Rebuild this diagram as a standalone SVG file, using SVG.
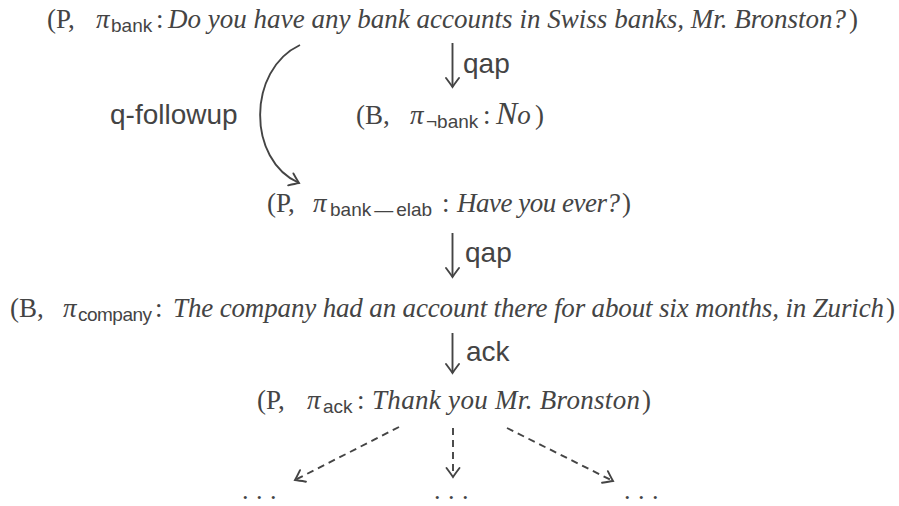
<svg xmlns="http://www.w3.org/2000/svg" width="899" height="506" viewBox="0 0 899 506">
<style>
text{fill:#444}
.rm{font-family:"Liberation Serif",serif;font-size:27px}
.mi{font-family:"Liberation Serif",serif;font-size:27px;font-style:italic}
.it{font-family:"Liberation Serif",serif;font-size:27px;font-style:italic}
.sub{font-family:"Liberation Sans",sans-serif;font-size:19px}
.lbl{font-family:"Liberation Sans",sans-serif;font-size:28px}
.dots{font-family:"Liberation Serif",serif;font-size:26px}
.edge{fill:none;stroke:#444;stroke-width:1.9}
.dash{stroke-dasharray:7 5}
</style>
<defs>
<marker id="ah" viewBox="-11 -8 13 16" markerWidth="13" markerHeight="16" refX="0" refY="0" orient="auto" markerUnits="userSpaceOnUse">
<path d="M-9,-6.5 Q-3,-2 0,0 Q-3,2 -9,6.5" fill="none" stroke="#444" stroke-width="1.9" stroke-linecap="round"/>
</marker>
</defs>
<g id="n-bank">
<text class="rm" x="47" y="28">(P,</text>
<text class="mi" x="96" y="28">π</text>
<text class="sub" x="111" y="32">bank</text>
<text class="rm" x="156" y="28">:</text>
<text class="it" x="168" y="28" textLength="678" lengthAdjust="spacing">Do you have any bank accounts in Swiss banks, Mr. Bronston?</text>
<text class="rm" x="849" y="28">)</text>
</g>
<g id="n-nobank">
<text class="rm" x="356" y="124">(B,</text>
<text class="mi" x="410" y="124">π</text>
<text class="sub" x="426" y="128">¬bank</text>
<text class="rm" x="483" y="124">:</text>
<text class="it" x="496" y="124"><tspan font-size="32">N</tspan>o</text>
<text class="rm" x="535" y="124">)</text>
</g>
<g id="n-elab">
<text class="rm" x="267" y="212">(P,</text>
<text class="mi" x="313" y="212">π</text>
<text class="sub" x="330" y="216" font-size="20">bank<tspan dx="3">—</tspan><tspan dx="3">elab</tspan></text>
<text class="rm" x="442" y="212">:</text>
<text class="it" x="457" y="212" textLength="163" lengthAdjust="spacing">Have you ever?</text>
<text class="rm" x="622" y="212">)</text>
</g>
<g id="n-company">
<text class="rm" x="10" y="317">(B,</text>
<text class="mi" x="63" y="317">π</text>
<text class="sub" x="78" y="321" textLength="74" lengthAdjust="spacing">company</text>
<text class="rm" x="155" y="317">:</text>
<text class="it" x="173" y="317" textLength="711" lengthAdjust="spacing">The company had an account there for about six months, in Zurich</text>
<text class="rm" x="886" y="317">)</text>
</g>
<g id="n-ack">
<text class="rm" x="257" y="409">(P,</text>
<text class="mi" x="307" y="409">π</text>
<text class="sub" x="323" y="413">ack</text>
<text class="rm" x="357" y="409">:</text>
<text class="it" x="372" y="409" textLength="268" lengthAdjust="spacing">Thank you Mr. Bronston</text>
<text class="rm" x="642" y="409">)</text>
</g>
<g id="n-dots1"><text class="dots" x="242" y="499" letter-spacing="7.5">...</text></g>
<g id="n-dots2"><text class="dots" x="434" y="499" letter-spacing="7.5">...</text></g>
<g id="n-dots3"><text class="dots" x="624" y="499" letter-spacing="7.5">...</text></g>
<g id="connectors">
<path class="edge" d="M452.5,43 V87" marker-end="url(#ah)"/>
<path class="edge" d="M300,45 C247,70 247,160 299,183" marker-end="url(#ah)"/>
<path class="edge" d="M452.5,233 V277" marker-end="url(#ah)"/>
<path class="edge" d="M452.5,333 V373" marker-end="url(#ah)"/>
<path class="edge dash" d="M399,427 L295,480" marker-end="url(#ah)"/>
<path class="edge dash" d="M453,428 V477" marker-end="url(#ah)"/>
<path class="edge dash" d="M507,428 L613,481" marker-end="url(#ah)"/>
</g>
<g id="edge-labels">
<text class="lbl" x="463" y="73">qap</text>
<text class="lbl" x="110" y="124">q-followup</text>
<text class="lbl" x="465" y="262">qap</text>
<text class="lbl" x="466" y="361">ack</text>
</g>
</svg>
